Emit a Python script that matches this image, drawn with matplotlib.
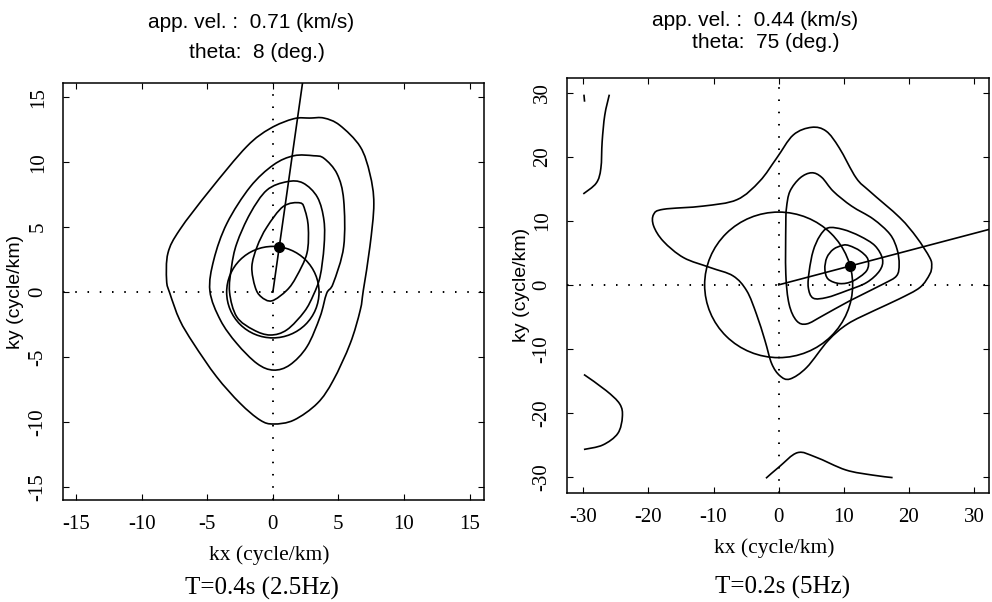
import numpy as np
import matplotlib
matplotlib.use("Agg")
from matplotlib import pyplot as plt
from matplotlib.path import Path
from matplotlib.patches import PathPatch, Circle

plt.rcParams['axes.unicode_minus'] = False

# --- 2.5 Hz panel -----------------------------------------------------------
freq_a = 2.5          # Hz
vel_a = 0.71          # km/s
theta_a = 8           # deg, clockwise from ky axis

contour_a1 = [(2.85, 13.4), (1.6, 13.35), (-0.2, 12.6), (-2.0, 11.2), (-4.8, 7.85),
              (-7.1, 4.8), (-8.0, 3.0), (-8.1, 0.9), (-7.85, -0.1), (-7.1, -2.15),
              (-6.05, -3.95), (-4.3, -6.5), (-2.5, -8.55), (-0.97, -9.85), (0.05, -10.15),
              (1.6, -9.85), (3.4, -8.55), (4.6, -6.8), (5.9, -3.95), (6.66, -1.4),
              (6.9, 0.15), (7.4, 3.5), (7.7, 6.8), (7.4, 9.1), (6.66, 11.2),
              (5.1, 12.85), (3.9, 13.4)]
contour_a2 = [(1.6, 10.5), (0.05, 9.8), (-1.73, 8.1), (-3.5, 5.3), (-4.5, 2.5),
              (-4.8, 0.1), (-4.0, -2.15), (-2.75, -3.95), (-1.2, -5.5), (0.05, -6.0),
              (1.3, -5.6), (2.6, -4.2), (3.6, -1.9), (4.1, -0.1), (4.6, 0.67),
              (5.4, 3.5), (5.4, 7.1), (4.9, 9.1), (3.9, 10.3), (3.1, 10.5)]
contour_a3 = [(1.07, 8.5), (-0.46, 7.85), (-1.73, 6.05), (-2.75, 3.75), (-3.15, 1.95),
              (-3.3, 0.0), (-2.75, -1.9), (-1.48, -2.9), (-0.2, -3.3), (1.07, -2.9),
              (2.4, -1.5), (3.1, -0.2), (3.6, 1.2), (3.9, 3.5), (3.9, 5.5),
              (3.4, 7.3), (2.3, 8.4)]
contour_a4 = [(2.08, 6.87), (0.8, 6.6), (-0.46, 5.0), (-1.2, 3.5), (-1.6, 1.95),
              (-1.35, 0.4), (-0.9, -0.35), (-0.08, -0.67), (1.07, 0.15), (1.8, 1.2),
              (2.6, 3.0), (2.7, 5.0), (2.45, 6.3)]

# --- 5 Hz panel -------------------------------------------------------------
freq_b = 5.0
vel_b = 0.44
theta_b = 75

contour_b1 = [(5.06, 24.6), (2.24, 23.4), (-0.3, 19.8), (-2.9, 16.2), (-6.4, 13.3),
              (-11.6, 12.3), (-17.7, 11.8), (-19.2, 11.0), (-19.2, 9.2), (-17.7, 6.8),
              (-14.6, 4.25), (-10.5, 2.7), (-7.0, 1.4), (-4.9, -0.93), (-3.4, -4.6),
              (-2.1, -8.7), (-1.07, -12.3), (0.2, -14.2), (1.73, -14.7), (4.3, -12.9),
              (7.6, -8.7), (10.6, -6.1), (14.7, -4.0), (18.5, -2.2), (21.7, -0.4),
              (23.2, 1.66), (23.5, 2.95), (23.2, 4.25), (21.2, 7.4), (18.6, 10.5),
              (14.0, 14.6), (11.9, 16.7), (9.3, 21.4), (7.3, 24.0)]
contour_b2 = [(5.06, 17.5), (3.3, 16.7), (1.73, 14.6), (1.2, 12.0), (1.1, 9.4),
              (1.1, 1.7), (1.6, -3.0), (2.75, -5.6), (4.3, -6.1), (6.8, -4.8),
              (10.9, -2.5), (16.0, 0.1), (18.1, 1.4), (18.5, 3.2), (18.2, 5.5),
              (17.1, 7.9), (14.5, 10.3), (11.2, 12.3), (8.4, 14.6), (6.6, 16.8)]
contour_b3 = [(7.6, 8.9), (9.9, 8.65), (12.5, 7.6), (14.8, 6.1), (15.95, 4.0),
              (15.5, 2.2), (13.5, 0.36), (10.4, -0.93), (7.4, -1.97), (5.3, -2.07),
              (4.55, -0.4), (4.7, 2.2), (5.3, 5.3), (6.3, 7.6)]
contour_b4 = [(9.9, 6.2), (8.4, 5.55), (7.4, 4.25), (7.1, 2.45), (7.6, 0.9),
              (9.4, 0.2), (11.4, 0.6), (13.5, 2.2), (13.7, 4.0), (12.5, 5.3),
              (10.9, 6.1)]
# pieces cut by the plot frame
open_b1 = [(-29.9, 29.7), (-29.8, 28.6)]
open_b2 = [(-26.0, 29.7), (-26.7, 26.5), (-27.1, 22.4), (-27.3, 18.2), (-28.0, 15.9),
           (-30.0, 14.2)]
open_b3 = [(-29.9, -14.0), (-26.5, -16.5), (-24.4, -18.6), (-24.0, -20.6),
           (-24.7, -23.2), (-27.0, -25.0), (-29.9, -25.7)]
open_b4 = [(-1.95, -30.2), (0.1, -28.4), (2.9, -26.2), (5.7, -26.9), (10.3, -28.9),
           (14.4, -29.7), (17.5, -30.1)]


def smooth_path(points, closed=True):
    """Catmull-Rom curve through the points, as a cubic Bezier path."""
    p = np.asarray(points, float)
    n = len(p)
    if closed:
        idx = lambda i: p[i % n]
        segs = range(n)
    else:
        ext = np.vstack([p[0], p, p[-1]])
        idx = lambda i: ext[i + 1]
        segs = range(n - 1)
    verts = [idx(0)]
    codes = [Path.MOVETO]
    for i in segs:
        p0, p1, p2, p3 = idx(i - 1), idx(i), idx(i + 1), idx(i + 2)
        verts += [p1 + (p2 - p0) / 6, p2 - (p3 - p1) / 6, p2]
        codes += [Path.CURVE4] * 3
    return Path(verts, codes)


def draw_panel(ax, lim, ticks, closed, opened, freq, vel, theta):
    for c in closed:
        ax.add_patch(PathPatch(smooth_path(c), fill=False, lw=1.2, ec='black'))
    for c in opened:
        ax.add_patch(PathPatch(smooth_path(c, closed=False), fill=False, lw=1.2, ec='black'))
    k = freq / vel
    t = np.deg2rad(theta)
    ax.add_patch(Circle((0, 0), k, fill=False, lw=1.2, ec='black'))
    far = 3 * lim[1]
    ax.plot([0, far * np.sin(t)], [0, far * np.cos(t)], color='black', lw=1.2)
    ax.plot(k * np.sin(t), k * np.cos(t), 'o', color='black', ms=7, zorder=5)
    ax.axhline(0, color='black', lw=1.4, ls=(0, (0.8, 5.5)))
    ax.axvline(0, color='black', lw=1.4, ls=(0, (0.8, 5.5)))
    ax.set_xlim(lim)
    ax.set_ylim(lim)
    ax.set_xticks(ticks)
    ax.set_yticks(ticks)
    ax.tick_params(direction='in', length=4, top=True, right=True, pad=11,
                   labelsize=15, labelfontfamily='Liberation Serif')
    for lab in ax.get_yticklabels():
        lab.set_rotation(90)
        lab.set_va('center')
    for s in ax.spines.values():
        s.set_linewidth(1.1)


fig = plt.figure(figsize=(9.92, 6.02), dpi=100)
W, H = 992, 602


def box(x0, y0, x1, y1):
    return [x0 / W, 1 - y1 / H, (x1 - x0) / W, (y1 - y0) / H]


ax1 = fig.add_axes(box(63, 83, 484, 500))
ax2 = fig.add_axes(box(567, 78, 989, 493))

draw_panel(ax1, (-16, 16.1), [-15, -10, -5, 0, 5, 10, 15],
           [contour_a1, contour_a2, contour_a3, contour_a4], [],
           freq_a, vel_a, theta_a)
draw_panel(ax2, (-32.5, 32.3), [-30, -20, -10, 0, 10, 20, 30],
           [contour_b1, contour_b2, contour_b3, contour_b4],
           [open_b1, open_b2, open_b3, open_b4],
           freq_b, vel_b, theta_b)


def ftext(x, y, s, **kw):
    fig.text(x / W, 1 - y / H, s, ha='center', va='center', **kw)


sans = dict(family='Liberation Sans', fontsize=15)
serif = dict(family='Liberation Serif', fontsize=15.5)

ftext(251, 23, f'app. vel. :  {vel_a:.2f} (km/s)', **sans)
ftext(257, 52, f'theta:  {theta_a} (deg.)', **sans)
ftext(755, 20, f'app. vel. :  {vel_b:.2f} (km/s)', **sans)
ftext(766, 43, f'theta:  {theta_b} (deg.)', **sans)

ftext(269, 555, 'kx (cycle/km)', **serif)
ftext(774, 548, 'kx (cycle/km)', **serif)
ftext(16, 292, 'ky (cycle/km)', rotation=90, family='Liberation Sans', fontsize=14)
ftext(521, 285, 'ky (cycle/km)', rotation=90, family='Liberation Sans', fontsize=14)

ftext(262, 588, 'T=0.4s (2.5Hz)', family='Liberation Serif', fontsize=18)
ftext(783, 587, 'T=0.2s (5Hz)', family='Liberation Serif', fontsize=18)

fig.savefig('out.png', dpi=100)
